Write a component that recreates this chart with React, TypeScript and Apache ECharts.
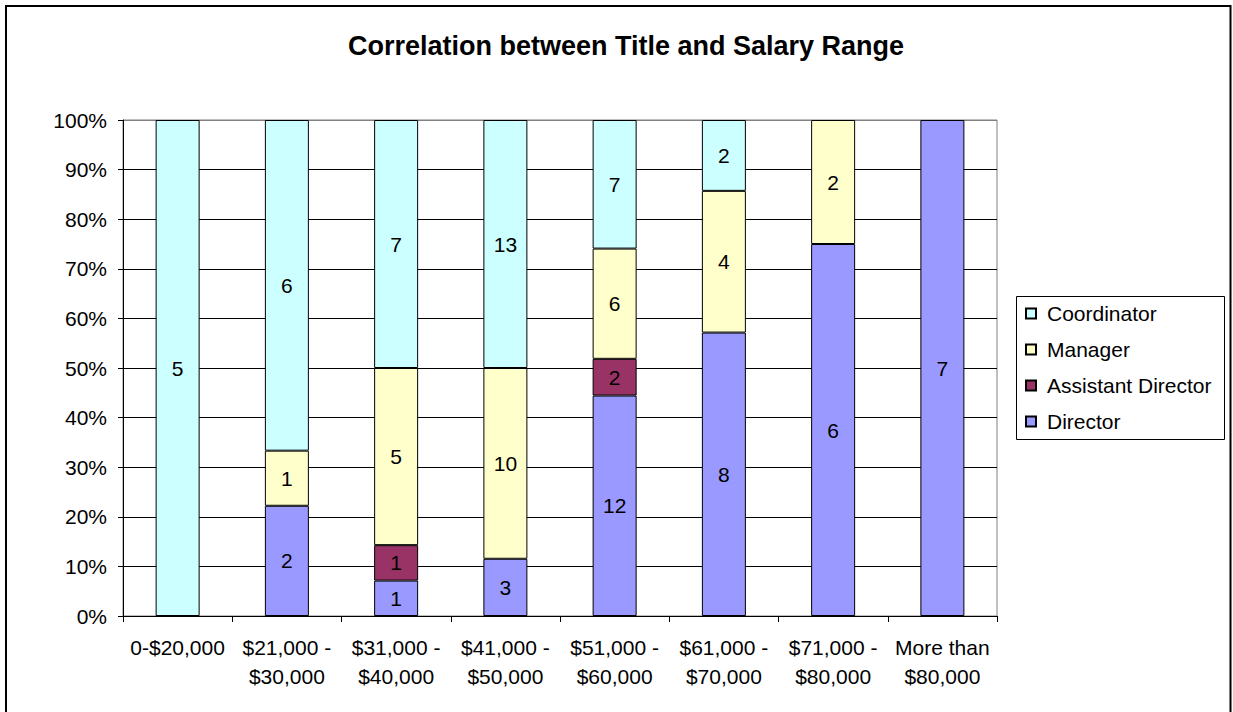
import React, { useEffect, useRef } from "react";
import * as echarts from "echarts";

const categories = [
  "0-$20,000",
  "$21,000 -\n$30,000",
  "$31,000 -\n$40,000",
  "$41,000 -\n$50,000",
  "$51,000 -\n$60,000",
  "$61,000 -\n$70,000",
  "$71,000 -\n$80,000",
  "More than\n$80,000",
];
const director = [0, 2, 1, 3, 12, 8, 6, 7];
const assistantDirector = [0, 0, 1, 0, 2, 0, 0, 0];
const manager = [0, 1, 5, 10, 6, 4, 2, 0];
const coordinator = [5, 6, 7, 13, 7, 2, 0, 0];
const yTicks = [0, 10, 20, 30, 40, 50, 60, 70, 80, 90, 100];

const FONT = "'Liberation Sans', Arial, sans-serif";

export default function App() {
  const ref = useRef<HTMLDivElement>(null);
  useEffect(() => {
    if (!ref.current) return;
    const chart = echarts.init(ref.current, null, { renderer: "svg" });
    const totals = categories.map(
      (_, i) => director[i] + assistantDirector[i] + manager[i] + coordinator[i]
    );
    const mk = (name: string, arr: number[], color: string) => ({
      name,
      type: "bar",
      stack: "all",
      barWidth: 44,
      itemStyle: { color, borderColor: "#000", borderWidth: 1 },
      label: {
        show: true,
        position: "inside",
        color: "#000",
        fontSize: 21,
        fontFamily: FONT,
        formatter: (p: any) => (p.data && p.data.raw ? String(p.data.raw) : ""),
      },
      data: arr.map((v, i) =>
        v ? { value: (v / totals[i]) * 100, raw: v } : "-"
      ),
    });
    chart.setOption({
      animation: false,
      backgroundColor: "#fff",
      textStyle: { fontFamily: FONT },
      title: {
        text: "Correlation between Title and Salary Range",
        left: 621,
        textAlign: "center",
        top: 27,
        textStyle: { fontSize: 27, fontWeight: "bold", color: "#000", fontFamily: FONT },
      },
      grid: {
        left: 123,
        right: 236,
        top: 120,
        bottom: 96,
        show: true,
        borderColor: "#808080",
        borderWidth: 1,
      },
      legend: {
        orient: "vertical",
        left: 1020,
        top: 298,
        icon: "rect",
        itemWidth: 10,
        itemHeight: 10,
        itemGap: 15,
        data: ["Coordinator", "Manager", "Assistant Director", "Director"],
        textStyle: {
          fontSize: 21,
          color: "#000",
          fontFamily: FONT,
          padding: [0, 0, 0, 6],
        },
      },
      xAxis: {
        type: "category",
        data: categories,
        axisLine: { lineStyle: { color: "#000", width: 1 } },
        axisTick: { show: true, length: 6, lineStyle: { color: "#000" } },
        axisLabel: {
          interval: 0,
          color: "#000",
          fontSize: 21,
          lineHeight: 29,
          margin: 17,
          fontFamily: FONT,
        },
      },
      yAxis: {
        type: "value",
        min: yTicks[0],
        max: yTicks[yTicks.length - 1],
        interval: 10,
        axisLine: { show: true, lineStyle: { color: "#000", width: 1 } },
        axisTick: { show: true, length: 5, lineStyle: { color: "#000" } },
        axisLabel: {
          color: "#000",
          fontSize: 21,
          margin: 16,
          fontFamily: FONT,
          formatter: "{value}%",
        },
        splitLine: {
          show: true,
          lineStyle: {
            color: ["#000", "#000", "#000", "#000", "#000", "#000", "#000", "#000", "#000", "#000", "#808080"],
            width: 1,
          },
        },
      },
      graphic: [
        {
          type: "rect",
          shape: { x: 6, y: 6, width: 1224.5, height: 730 },
          style: { fill: "none", stroke: "#000", lineWidth: 2 },
          silent: true,
          z: 100,
        },
        {
          type: "rect",
          shape: { x: 1016.5, y: 296.5, width: 208, height: 143 },
          style: { fill: "none", stroke: "#000", lineWidth: 1 },
          silent: true,
          z: 100,
        },
      ],
      series: [
        mk("Director", director, "#9999FF"),
        mk("Assistant Director", assistantDirector, "#993366"),
        mk("Manager", manager, "#FFFFCC"),
        mk("Coordinator", coordinator, "#CCFFFF"),
      ],
    });
    return () => chart.dispose();
  }, []);
  return (
    <div
      ref={ref}
      style={{ position: "fixed", left: 0, top: 0, width: 1233, height: 712 }}
    />
  );
}
